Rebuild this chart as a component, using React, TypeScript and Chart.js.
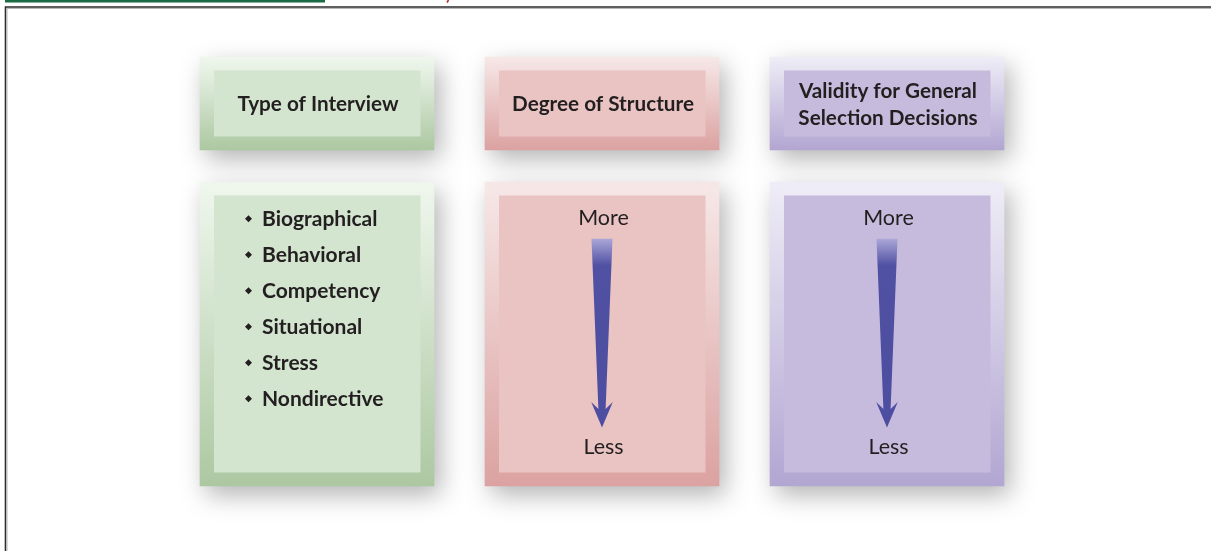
import React, { useEffect, useRef } from "react";
import { Chart, registerables } from "chart.js";

Chart.register(...registerables);

// ---- data ----
const categories = ["Type of Interview", "Degree of Structure", "Validity for General Selection Decisions"];
const headerLines = [["Type of Interview"], ["Degree of Structure"], ["Validity for General", "Selection Decisions"]];
const headerBand = [[0, 1], [0, 1], [0, 1]];
const bodyBand = [[1.344, 4.613], [1.344, 4.613], [1.344, 4.613]];
const interviewTypes = ["Biographical", "Behavioral", "Competency", "Situational", "Stress", "Nondirective"];
const arrowLabels = ["More", "Less"];
const arrowColumns = [1, 2];

// ---- styles ----
const outerTop = ["#f0f7ee", "#f7e8e8", "#efedf7"];
const outerBottom = ["#acc8a1", "#dba2a1", "#b2a6d2"];
const innerFill = ["#d3e4cf", "#e9c4c2", "#c6bbdc"];
const textColor = "#231f20";
const FONT = "Lato, 'Open Sans', sans-serif";

// layout in y-scale units
const LAYOUT = {
  listStart: 1.74,
  listStep: 0.387,
  moreY: 1.735,
  arrowTop: 1.955,
  arrowHead: 3.71,
  arrowNotch: 3.785,
  arrowTip: 3.985,
  lessY: 4.19,
};

function gradientFor(ctx: any, i: number) {
  const chart = ctx.chart;
  const y = chart.scales && chart.scales.y;
  const raw = ctx.raw;
  if (!y || !raw) return outerBottom[i];
  const t = y.getPixelForValue(raw[0]);
  const b = y.getPixelForValue(raw[1]);
  if (!isFinite(t) || !isFinite(b)) return outerBottom[i];
  const g = chart.ctx.createLinearGradient(0, t, 0, b);
  g.addColorStop(0, outerTop[i]);
  g.addColorStop(1, outerBottom[i]);
  return g;
}

const diagramPlugin = {
  id: "diagram",
  beforeDraw(chart: any) {
    const ctx = chart.ctx;
    const W = chart.width;
    const H = chart.height;
    ctx.save();
    ctx.fillStyle = "#ffffff";
    ctx.fillRect(0, 0, W, H);
    // top strip decorations
    ctx.fillStyle = "#1a6a45";
    ctx.fillRect(5, 0, 320, 2.5);
    ctx.strokeStyle = "#c0282d";
    ctx.lineWidth = 1.6;
    ctx.beginPath();
    ctx.moveTo(448.5, 0);
    ctx.lineTo(447, 2.5);
    ctx.stroke();
    // frame
    ctx.strokeStyle = "#2b2b2b";
    ctx.lineWidth = 1.6;
    ctx.beginPath();
    ctx.moveTo(W, 7);
    ctx.lineTo(5.5, 7);
    ctx.lineTo(5.5, H);
    ctx.stroke();
    ctx.strokeStyle = "#b8b8b8";
    ctx.lineWidth = 1;
    ctx.beginPath();
    ctx.moveTo(W, 8.5);
    ctx.lineTo(7, 8.5);
    ctx.lineTo(7, H);
    ctx.stroke();
    ctx.restore();
  },
  beforeDatasetsDraw(chart: any) {
    const ctx = chart.ctx;
    ctx.save();
    ctx.shadowColor = "rgba(0,0,0,0.30)";
    ctx.shadowBlur = 24;
    ctx.shadowOffsetX = 6;
    ctx.shadowOffsetY = 9;
  },
  afterDatasetsDraw(chart: any) {
    const ctx = chart.ctx;
    ctx.restore();
    const yS = chart.scales.y;
    ctx.save();
    // inner panels
    chart.data.datasets.forEach((ds: any, di: number) => {
      const meta = chart.getDatasetMeta(di);
      meta.data.forEach((el: any, i: number) => {
        const p = el.getProps(["x", "y", "base", "width"], true);
        const left = p.x - p.width / 2;
        const right = p.x + p.width / 2;
        const top = Math.min(p.y, p.base);
        const bottom = Math.max(p.y, p.base);
        ctx.fillStyle = innerFill[i];
        ctx.fillRect(left + 14, top + 13.5, right - left - 27.5, bottom - top - 27);
      });
    });
    // header text
    const headerMeta = chart.getDatasetMeta(0);
    ctx.fillStyle = textColor;
    ctx.textAlign = "center";
    ctx.textBaseline = "middle";
    ctx.font = `bold 20.7px ${FONT}`;
    headerMeta.data.forEach((el: any, i: number) => {
      const p = el.getProps(["x", "y", "base"], true);
      const cy = (p.y + p.base) / 2;
      const lines = headerLines[i];
      const lh = 27;
      lines.forEach((ln, k) => {
        ctx.fillText(ln, p.x + 1, cy + 1 + (k - (lines.length - 1) / 2) * lh);
      });
    });
    // list in first body
    const bodyMeta = chart.getDatasetMeta(1);
    const b0 = bodyMeta.data[0].getProps(["x", "width"], true);
    const bulletX = b0.x - b0.width / 2 + 48.5;
    const textX = b0.x - b0.width / 2 + 62;
    ctx.textAlign = "left";
    ctx.font = `bold 21px ${FONT}`;
    interviewTypes.forEach((t, k) => {
      const yy = yS.getPixelForValue(LAYOUT.listStart + k * LAYOUT.listStep);
      ctx.beginPath();
      ctx.moveTo(bulletX, yy - 3.5);
      ctx.lineTo(bulletX + 3.5, yy);
      ctx.lineTo(bulletX, yy + 3.5);
      ctx.lineTo(bulletX - 3.5, yy);
      ctx.closePath();
      ctx.fill();
      ctx.fillText(t, textX, yy);
    });
    // arrows
    arrowColumns.forEach((ci) => {
      const p = bodyMeta.data[ci].getProps(["x"], true);
      const cx = p.x;
      ctx.fillStyle = textColor;
      ctx.textAlign = "center";
      ctx.font = `21.5px ${FONT}`;
      ctx.fillText(arrowLabels[0], cx + 1.5, yS.getPixelForValue(LAYOUT.moreY));
      ctx.fillText(arrowLabels[1], cx + 1.5, yS.getPixelForValue(LAYOUT.lessY));
      const top = yS.getPixelForValue(LAYOUT.arrowTop);
      const head = yS.getPixelForValue(LAYOUT.arrowHead);
      const notch = yS.getPixelForValue(LAYOUT.arrowNotch);
      const tip = yS.getPixelForValue(LAYOUT.arrowTip);
      const g = ctx.createLinearGradient(0, top, 0, tip);
      g.addColorStop(0, "#aba7d8");
      g.addColorStop(0.14, "#5151a3");
      g.addColorStop(1, "#4d4da1");
      ctx.fillStyle = g;
      ctx.beginPath();
      ctx.moveTo(cx - 10.5, top);
      ctx.lineTo(cx + 10.5, top);
      ctx.lineTo(cx + 3.6, notch);
      ctx.lineTo(cx + 10.8, head);
      ctx.lineTo(cx, tip);
      ctx.lineTo(cx - 10.8, head);
      ctx.lineTo(cx - 3.6, notch);
      ctx.closePath();
      ctx.fill();
    });
    ctx.restore();
  },
};

export default function App() {
  const ref = useRef<HTMLCanvasElement | null>(null);
  useEffect(() => {
    document.body.style.margin = "0";
    const canvas = ref.current;
    if (!canvas) return;
    const chart = new Chart(canvas, {
      type: "bar",
      data: {
        labels: categories,
        datasets: [
          {
            label: "Header",
            data: headerBand as any,
            backgroundColor: (c: any) => gradientFor(c, c.dataIndex),
            borderWidth: 0,
            barThickness: 234,
            clip: false as any,
          },
          {
            label: "Body",
            data: bodyBand as any,
            backgroundColor: (c: any) => gradientFor(c, c.dataIndex),
            borderWidth: 0,
            barThickness: 234,
            clip: false as any,
          },
        ],
      },
      options: {
        responsive: false,
        animation: false,
        devicePixelRatio: 1,
        events: [],
        layout: { padding: { left: 174.5, right: 181.5, top: 57, bottom: 65 } },
        datasets: { bar: { grouped: false } } as any,
        scales: {
          x: { type: "category", display: false, offset: true, grid: { display: false } },
          y: { type: "linear", display: false, reverse: true, min: 0, max: 4.613, grid: { display: false } },
        },
        plugins: { legend: { display: false }, tooltip: { enabled: false }, title: { display: false } },
      },
      plugins: [diagramPlugin],
    });
    return () => chart.destroy();
  }, []);
  return (
    <div style={{ width: 1211, height: 551 }}>
      <canvas ref={ref} width={1211} height={551} style={{ display: "block" }} />
    </div>
  );
}
